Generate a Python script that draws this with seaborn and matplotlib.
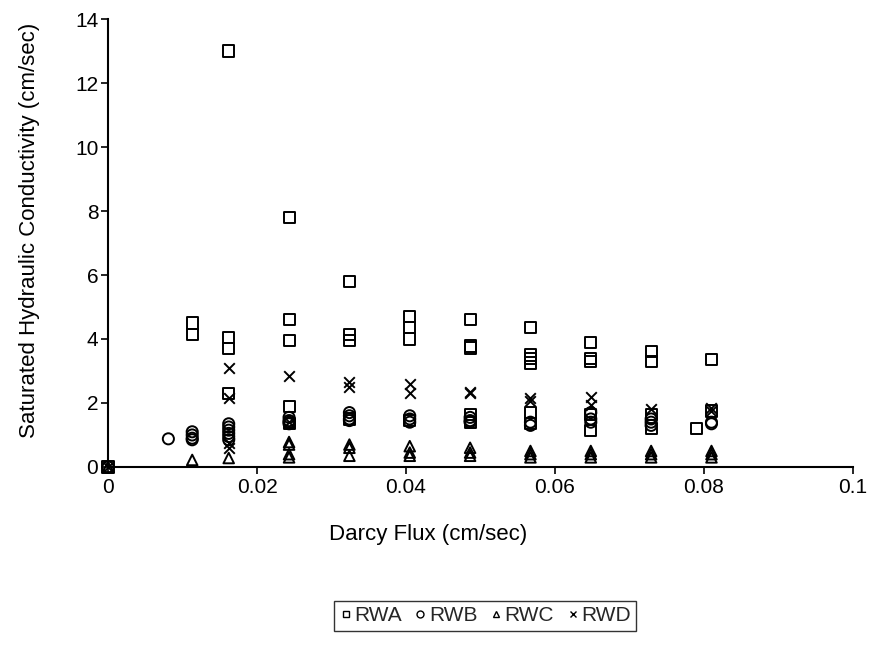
import matplotlib
matplotlib.use("Agg")
import matplotlib.pyplot as plt
from matplotlib.lines import Line2D
import seaborn as sns
import pandas as pd

# ---- data ----
rwa_x = [0, 0.0113, 0.0113, 0.0162, 0.0162, 0.0162, 0.0162,
         0.0243, 0.0243, 0.0243, 0.0243, 0.0243,
         0.0324, 0.0324, 0.0324, 0.0324,
         0.0405, 0.0405, 0.0405, 0.0405,
         0.0486, 0.0486, 0.0486, 0.0486, 0.0486,
         0.0567, 0.0567, 0.0567, 0.0567, 0.0567, 0.0567,
         0.0648, 0.0648, 0.0648, 0.0648, 0.0648,
         0.0729, 0.0729, 0.0729, 0.0729,
         0.079, 0.081, 0.081]
rwa_y = [0, 4.5, 4.15, 13.0, 4.05, 3.7, 2.3,
         7.8, 4.6, 3.95, 1.9, 1.35,
         5.8, 4.15, 3.95, 1.5,
         4.7, 4.35, 4.0, 1.45,
         4.6, 3.78, 3.72, 1.65, 1.4,
         4.35, 3.5, 3.4, 3.25, 1.7, 1.35,
         3.9, 3.4, 3.3, 1.65, 1.15,
         3.6, 3.3, 1.65, 1.2,
         1.2, 3.35, 1.75]

rwb_x = [0, 0.0081, 0.0113, 0.0113, 0.0113, 0.0113,
         0.0162, 0.0162, 0.0162, 0.0162, 0.0162, 0.0162,
         0.0243, 0.0243, 0.0243, 0.0243,
         0.0324, 0.0324, 0.0324, 0.0324,
         0.0405, 0.0405, 0.0405,
         0.0486, 0.0486, 0.0486,
         0.0567, 0.0567,
         0.0648, 0.0648, 0.0648,
         0.0729, 0.0729, 0.0729,
         0.081, 0.081]
rwb_y = [0, 0.88, 1.1, 1.0, 0.9, 0.85,
         1.35, 1.25, 1.15, 1.05, 0.95, 0.85,
         1.55, 1.45, 1.4, 1.35,
         1.7, 1.6, 1.5, 1.45,
         1.6, 1.5, 1.4,
         1.55, 1.45, 1.4,
         1.4, 1.3,
         1.7, 1.5, 1.4,
         1.5, 1.4, 1.3,
         1.4, 1.35]

rwc_x = [0, 0.0113, 0.0162,
         0.0243, 0.0243, 0.0243, 0.0243,
         0.0324, 0.0324, 0.0324,
         0.0405, 0.0405, 0.0405,
         0.0486, 0.0486, 0.0486,
         0.0567, 0.0567, 0.0567,
         0.0648, 0.0648, 0.0648,
         0.0729, 0.0729, 0.0729,
         0.081, 0.081, 0.081]
rwc_y = [0, 0.22, 0.28,
         0.78, 0.7, 0.4, 0.3,
         0.7, 0.6, 0.35,
         0.65, 0.45, 0.35,
         0.6, 0.45, 0.35,
         0.5, 0.4, 0.3,
         0.5, 0.4, 0.3,
         0.5, 0.4, 0.3,
         0.5, 0.4, 0.3]

rwd_x = [0, 0.0162, 0.0162, 0.0162, 0.0162,
         0.0243, 0.0243,
         0.0324, 0.0324,
         0.0405, 0.0405,
         0.0486, 0.0486,
         0.0567, 0.0567,
         0.0648, 0.0648,
         0.0729,
         0.081, 0.081]
rwd_y = [0, 3.1, 2.15, 0.75, 0.6,
         2.85, 1.4,
         2.65, 2.5,
         2.6, 2.3,
         2.35, 2.3,
         2.15, 2.05,
         2.2, 1.95,
         1.8,
         1.85, 1.75]

series_names = ["RWA", "RWB", "RWC", "RWD"]
x_ticks = [0, 0.02, 0.04, 0.06, 0.08, 0.1]
x_tick_labels = ["0", "0.02", "0.04", "0.06", "0.08", "0.1"]
y_ticks = [0, 2, 4, 6, 8, 10, 12, 14]

# ---- style ----
sns.set_theme(style="white")
plt.rcParams["font.family"] = ["Liberation Sans", "DejaVu Sans"]
FS_TICK = 15
FS_LABEL = 16

fig = plt.figure(figsize=(8.74, 6.45), dpi=100)
ax = fig.add_axes([0.1236, 0.276, 0.8524, 0.6945])

data = {"RWA": (rwa_x, rwa_y), "RWB": (rwb_x, rwb_y),
        "RWC": (rwc_x, rwc_y), "RWD": (rwd_x, rwd_y)}
markers = {"RWA": "s", "RWB": "o", "RWC": "^", "RWD": "x"}
sizes = {"RWA": 64, "RWB": 64, "RWC": 58, "RWD": 58}

for name in series_names:
    xs, ys = data[name]
    df = pd.DataFrame({"x": xs, "y": ys})
    m = markers[name]
    if m == "x":
        sns.scatterplot(data=df, x="x", y="y", marker="x", color="black",
                        s=sizes[name], linewidth=1.4, ax=ax, legend=False,
                        zorder=3, clip_on=False)
    else:
        sns.scatterplot(data=df, x="x", y="y", marker=m, facecolor="none",
                        edgecolor="black", s=sizes[name], linewidth=1.4,
                        ax=ax, legend=False, zorder=3, clip_on=False)

ax.set_xlim(0, 0.1)
ax.set_ylim(0, 14)
ax.set_xticks(x_ticks)
ax.set_xticklabels(x_tick_labels)
ax.set_yticks(y_ticks)
ax.set_yticklabels([str(v) for v in y_ticks])

for s in ["top", "right"]:
    ax.spines[s].set_visible(False)
for s in ["left", "bottom"]:
    ax.spines[s].set_color("black")
    ax.spines[s].set_linewidth(1.5)

ax.tick_params(axis="both", which="major", direction="out", length=5,
               width=1.2, color="black", labelsize=FS_TICK, labelcolor="black",
               bottom=True, left=True)
ax.tick_params(axis="x", pad=3)
ax.tick_params(axis="y", pad=2)

ax.set_xlabel("Darcy Flux (cm/sec)", fontsize=FS_LABEL, color="black")
ax.set_ylabel("Saturated Hydraulic Conductivity (cm/sec)", fontsize=FS_LABEL, color="black")
ax.xaxis.set_label_coords(0.43, -0.127)
ax.yaxis.set_label_coords(-0.091, 0.528)

handles = []
for name in series_names:
    m = markers[name]
    if m == "x":
        h = Line2D([], [], linestyle="none", marker="x", color="black",
                   markersize=5, markeredgewidth=1.0)
    else:
        h = Line2D([], [], linestyle="none", marker=m, markerfacecolor="none",
                   markeredgecolor="black", markersize=5, markeredgewidth=1.0)
    handles.append(h)

leg = fig.legend(handles, series_names, loc="center", bbox_to_anchor=(0.555, 0.045),
                 ncol=4, fontsize=FS_TICK, frameon=True, fancybox=False,
                 handlelength=0.6, handletextpad=0.1, columnspacing=0.6,
                 borderpad=0.25, borderaxespad=0)
leg.get_frame().set_edgecolor("black")
leg.get_frame().set_linewidth(1.0)

fig.savefig("out.png", dpi=100, facecolor="white")
